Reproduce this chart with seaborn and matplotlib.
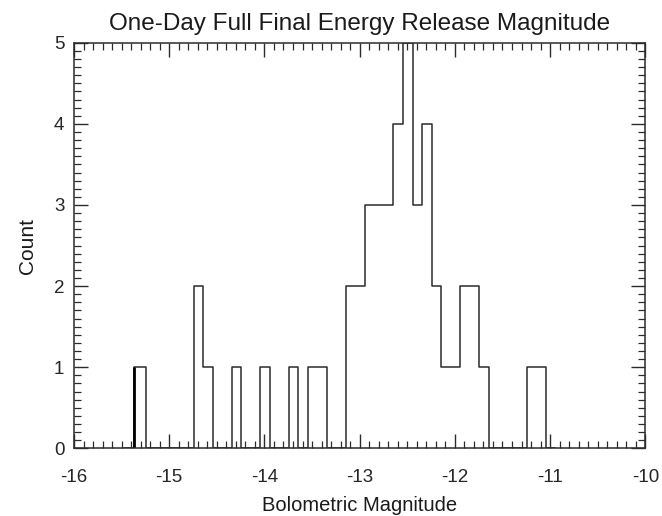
import numpy as np
import pandas as pd
import matplotlib
matplotlib.use("Agg")
import matplotlib.pyplot as plt
from matplotlib.ticker import MultipleLocator
import seaborn as sns

# bin centres (0.1 mag bins) and how many events fall in each
bin_centres = [-15.31, -14.695, -14.595, -14.295, -13.995, -13.695, -13.495, -13.395,
               -13.095, -12.995, -12.895, -12.795, -12.695, -12.595, -12.495,
               -12.395, -12.295, -12.195, -12.095, -11.995, -11.895, -11.795,
               -11.695, -11.195, -11.095]
bin_counts = [1, 2, 1, 1, 1, 1, 1, 1,
              2, 2, 3, 3, 3, 4, 5,
              3, 4, 2, 1, 1, 2, 2,
              1, 1, 1]
# first edge sits a little left of the regular 0.1 grid; one empty bin on each side
bin_edges = [-15.475, -15.375] + list(np.round(np.arange(-15.245, -10.9, 0.1), 3))

x_ticks = [-16, -15, -14, -13, -12, -11, -10]
y_ticks = [0, 1, 2, 3, 4, 5]

df = pd.DataFrame({"mag": bin_centres, "n": bin_counts})

sns.set_style("ticks")
plt.rcParams["font.family"] = ["Liberation Sans", "DejaVu Sans"]
plt.rcParams["axes.unicode_minus"] = False

fig = plt.figure(figsize=(6.62, 5.16), dpi=100)
ax = fig.add_axes([0.1118, 0.1312, 0.9748 - 0.1118, 0.9172 - 0.1312])

ink = "#2b2b2b"
sns.histplot(data=df, x="mag", weights="n", bins=bin_edges, element="step",
             fill=False, color=ink, linewidth=1.1, ax=ax)
# the left edge of the first bar is drawn heavier in the original
ax.vlines(bin_edges[1], 0, bin_counts[0], color="black", linewidth=2.0)

ax.set_xlim(x_ticks[0], x_ticks[-1])
ax.set_ylim(y_ticks[0], y_ticks[-1])
ax.set_xticks(x_ticks)
ax.set_yticks(y_ticks)
ax.xaxis.set_minor_locator(MultipleLocator(0.1))
ax.yaxis.set_minor_locator(MultipleLocator(0.1))
ax.tick_params(which="both", direction="in", top=True, right=True, color=ink)
ax.tick_params(which="major", length=10, width=1.0, labelsize=13.5, pad=7)
ax.tick_params(which="minor", length=5, width=0.9)
ax.tick_params(axis="x", which="major", pad=15)
for s in ax.spines.values():
    s.set_color(ink)
    s.set_linewidth(1.1)

ax.set_title("One-Day Full Final Energy Release Magnitude", fontsize=17.5, pad=9, color="#1a1a1a")
ax.set_xlabel("Bolometric Magnitude", fontsize=14.5, labelpad=7, color="#1a1a1a")
ax.set_ylabel("Count", fontsize=15, labelpad=12, color="#1a1a1a")

fig.savefig("out.png", dpi=100)
